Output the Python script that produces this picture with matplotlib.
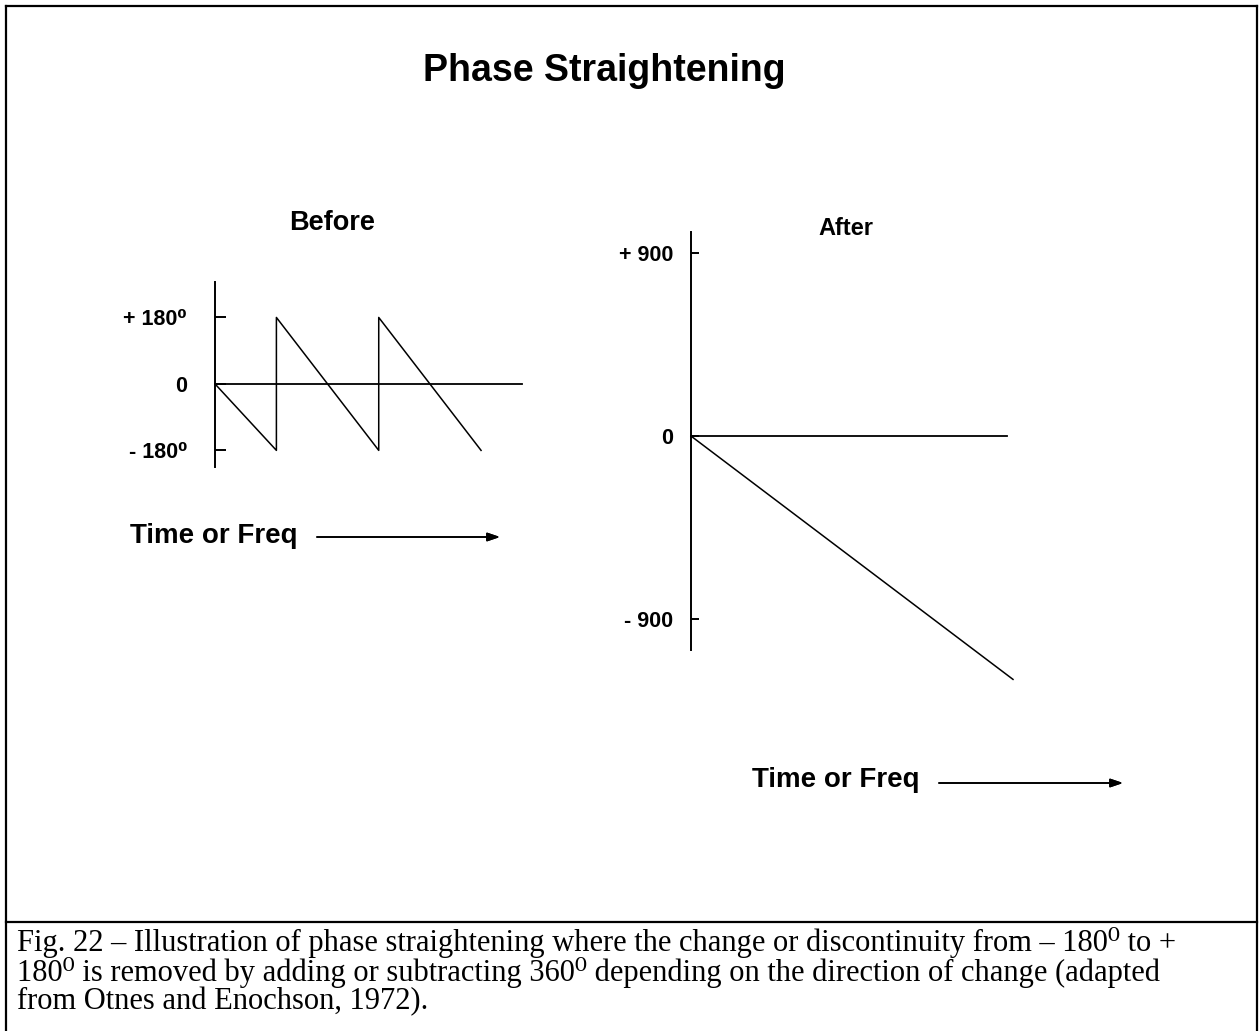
import matplotlib
matplotlib.use('Agg')
import matplotlib.pyplot as plt
from matplotlib.lines import Line2D

W, H = 1260, 1031

# wrapped phase (degrees) against time/frequency
before_t = [0, 0.6, 0.6, 1.6, 1.6, 2.6]
before_phase = [0, -180, 180, -180, 180, -180]
before_ticks = [-180, 0, 180]
before_labels = ['- 180\u2070', '0', '+ 180\u2070']

# straightened phase
after_t = [0, 3.06]
after_phase = [0, -1195]
after_ticks = [-900, 0, 900]
after_labels = ['- 900', '0', '+ 900']

caption_lines = [
    'Fig. 22 \u2013 Illustration of phase straightening where the change or discontinuity from \u2013 180\u2070 to +',
    '180\u2070 is removed by adding or subtracting 360\u2070 depending on the direction of change (adapted',
    'from Otnes and Enochson, 1972).',
]

SANS = ['Liberation Sans', 'DejaVu Sans']
SERIF = ['Liberation Serif', 'DejaVu Serif']


def fx(x):
    return x / W


def fy(y):
    return 1 - y / H


def add_panel(fig, left, top, right, bottom, xlim, ylim, bounds, ticks, labels, ticklen, pad):
    ax = fig.add_axes([fx(left), fy(bottom), fx(right - left), (bottom - top) / H])
    ax.set_xlim(*xlim)
    ax.set_ylim(*ylim)
    for side in ['top', 'right', 'bottom']:
        ax.spines[side].set_visible(False)
    ax.spines['left'].set_bounds(*bounds)
    ax.spines['left'].set_linewidth(1.4)
    ax.patch.set_visible(False)
    ax.set_xticks([])
    ax.set_yticks(ticks)
    ax.set_yticklabels(labels, family=SANS, fontweight='bold', fontsize=15.5)
    ax.tick_params(axis='y', direction='in', length=ticklen, width=1.4, pad=pad)
    return ax


fig = plt.figure(figsize=(W / 100, H / 100), dpi=100)

# frame and caption separator
frame_lw = 1.6
fig.add_artist(Line2D([fx(6), fx(6)], [fy(6), 0], color='black', lw=frame_lw))
fig.add_artist(Line2D([fx(1257), fx(1257)], [fy(6), 0], color='black', lw=frame_lw))
fig.add_artist(Line2D([fx(6), fx(1257)], [fy(6), fy(6)], color='black', lw=frame_lw))
fig.add_artist(Line2D([fx(6), fx(1257)], [fy(922), fy(922)], color='black', lw=frame_lw))

fig.text(fx(604), fy(81), 'Phase Straightening', family=SANS, fontweight='bold',
         fontsize=27, ha='center', va='baseline')

# before
ax1 = add_panel(fig, 215, 282, 522, 467, (0, 3), (-225, 276), (-225, 276),
                before_ticks, before_labels, 8, 20)
ax1.plot([0, 3], [0, 0], color='black', lw=1.3, clip_on=False)
ax1.plot(before_t, before_phase, color='black', lw=1.1, clip_on=False)
fig.text(fx(332), fy(230), 'Before', family=SANS, fontweight='bold',
         fontsize=19.5, ha='center', va='baseline')

# after
ax2 = add_panel(fig, 691, 232, 1013, 680, (0, 3.06), (-1198, 1002), (-1051, 1002),
                after_ticks, after_labels, 6, 13)
ax2.plot([0, 3.0], [0, 0], color='black', lw=1.3, clip_on=False)
ax2.plot(after_t, after_phase, color='black', lw=1.1, clip_on=False)
fig.text(fx(846), fy(235), 'After', family=SANS, fontweight='bold',
         fontsize=17, ha='center', va='baseline')

# time / frequency arrows
arrow = dict(arrowstyle='-|>,head_length=0.5,head_width=0.17', color='black',
             lw=1.2, mutation_scale=15, shrinkA=0, shrinkB=0)
for text_right, text_base, a0, a1, ay in [(297, 543, 317, 500, 537), (920, 787, 939, 1123, 783)]:
    fig.text(fx(text_right), fy(text_base), 'Time or Freq', family=SANS, fontweight='bold',
             fontsize=20, ha='right', va='baseline')
    fig.add_artist(plt.annotate('', xy=(fx(a1), fy(ay)), xytext=(fx(a0), fy(ay)),
                                xycoords='figure fraction', arrowprops=arrow))

# caption below the separator, one block so the lines share spacing
# (baseline alignment refers to the last line here)
fig.text(fx(17), fy(1009), '\n'.join(caption_lines), family=SERIF, fontsize=22,
         ha='left', va='baseline', linespacing=0.955)

fig.savefig('out.png', dpi=100)
plt.close(fig)
